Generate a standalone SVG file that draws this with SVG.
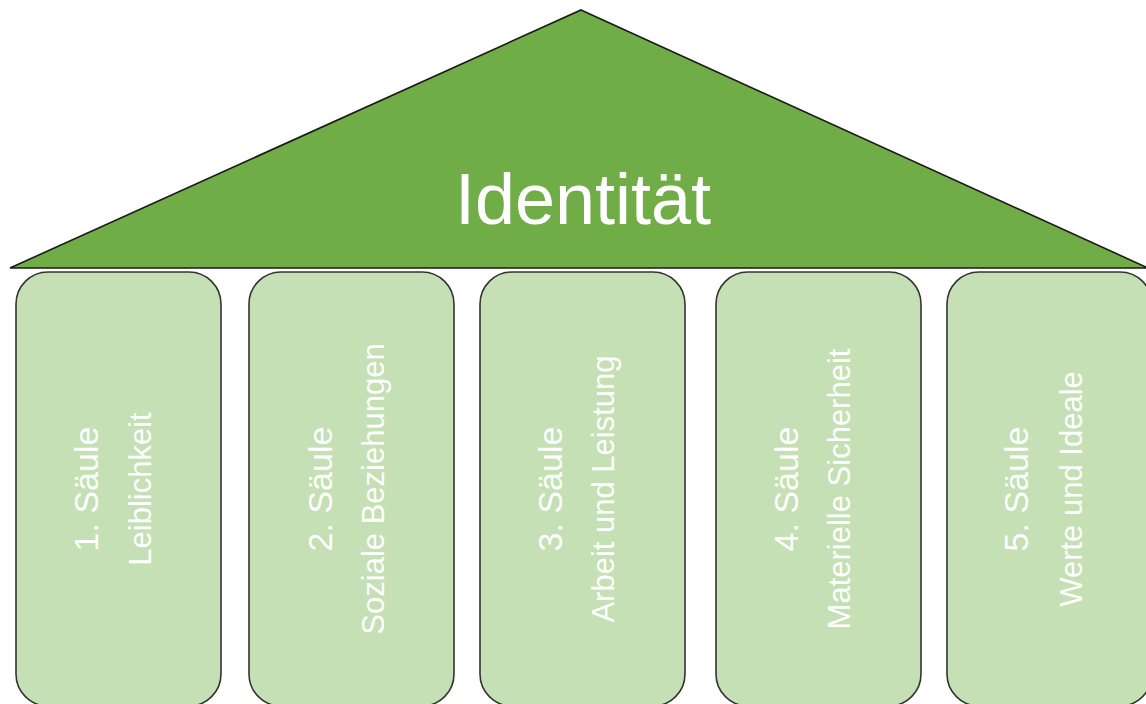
<svg xmlns="http://www.w3.org/2000/svg" width="1146" height="704" viewBox="0 0 1146 704">
<style>
.pillar{fill:#C5E0B4;stroke:#333;stroke-width:1.6}
.t{fill:#fff;font-family:"Liberation Sans",Arial,sans-serif;text-anchor:middle}
.h{font-size:34px}
.s{font-size:31px}
</style>
<rect width="1146" height="704" fill="#fff"/>
<g id="roof">
<polygon points="581,10 1148,268 10,268" fill="#70AD47" stroke="#1a1a1a" stroke-width="1.6" stroke-linejoin="miter"/>
<text class="t" x="583" y="224" font-size="72">Identität</text>
</g>
<g id="pillar1">
<rect class="pillar" x="16" y="272" width="205" height="434" rx="32"/>
<text class="t h" transform="translate(97.5 489) rotate(-90)">1. Säule</text>
<text class="t s" transform="translate(151 489) rotate(-90)">Leiblichkeit</text>
</g>
<g id="pillar2">
<rect class="pillar" x="249" y="272" width="205" height="434" rx="32"/>
<text class="t h" transform="translate(331.5 489) rotate(-90)">2. Säule</text>
<text class="t s" transform="translate(384 489) rotate(-90)">Soziale Beziehungen</text>
</g>
<g id="pillar3">
<rect class="pillar" x="480" y="272" width="205" height="434" rx="32"/>
<text class="t h" transform="translate(562 489) rotate(-90)">3. Säule</text>
<text class="t s" transform="translate(614 489) rotate(-90)">Arbeit und Leistung</text>
</g>
<g id="pillar4">
<rect class="pillar" x="716" y="272" width="205" height="434" rx="32"/>
<text class="t h" transform="translate(798 489) rotate(-90)">4. Säule</text>
<text class="t s" transform="translate(850 489) rotate(-90)">Materielle Sicherheit</text>
</g>
<g id="pillar5">
<rect class="pillar" x="947" y="272" width="205" height="434" rx="32"/>
<text class="t h" transform="translate(1028 489) rotate(-90)">5. Säule</text>
<text class="t s" transform="translate(1082 489) rotate(-90)">Werte und Ideale</text>
</g>
<g id="connectors"/>
</svg>
